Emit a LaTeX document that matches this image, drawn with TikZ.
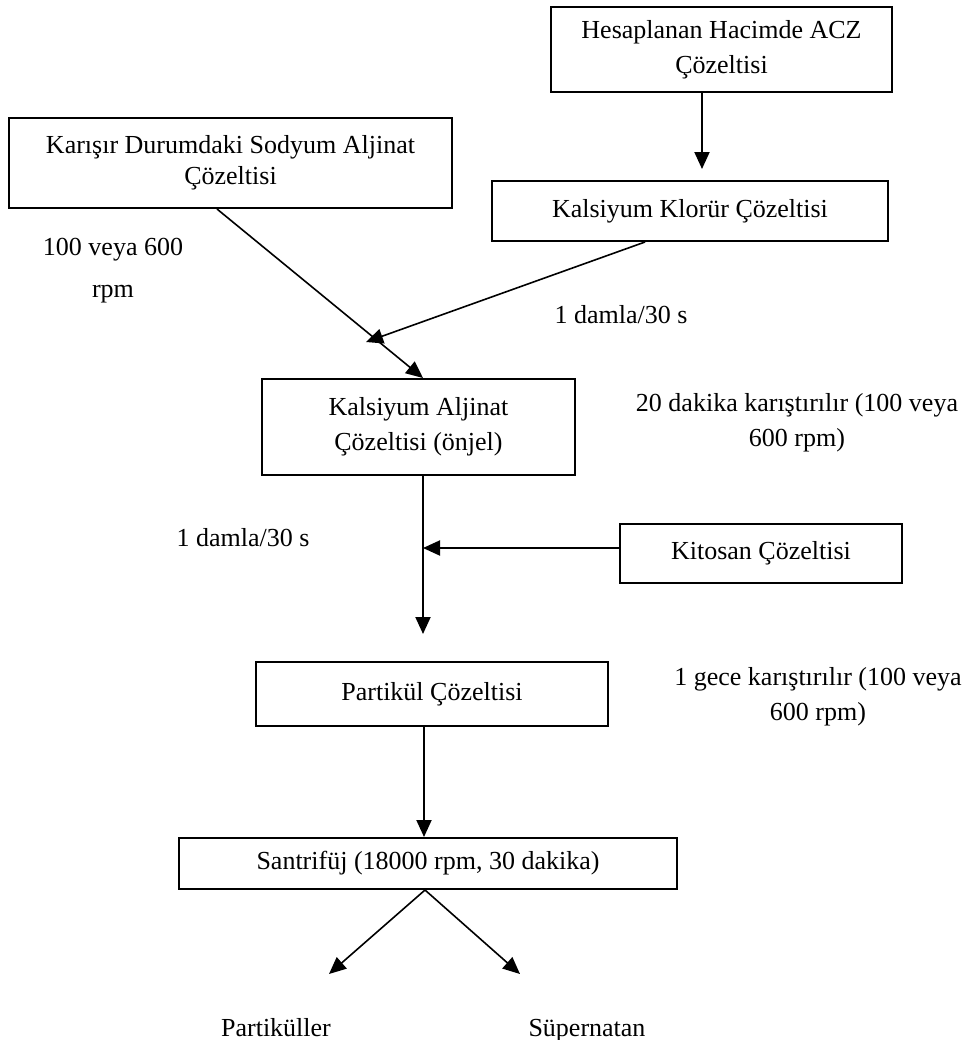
\documentclass[tikz,border=0pt]{standalone}
\usepackage{fontspec}
\setmainfont{Liberation Serif}
\usetikzlibrary{arrows.meta}
\tikzset{
  box/.style={draw, line width=1pt, inner sep=0pt, align=center, font=\fontsize{13pt}{17.5pt}\selectfont},
  lbl/.style={inner sep=0pt, align=center, font=\fontsize{13pt}{17.5pt}\selectfont},
  arr/.style={-{Triangle[length=8.5pt,width=7.5pt]}, line width=1pt},
  darr/.style={-{Triangle[length=8.5pt,width=7.5pt]}, line width=0.8pt}
}
\begin{document}
\begin{tikzpicture}[x=0.5pt,y=-0.5pt]
\useasboundingbox (0,0) rectangle (973,1040);
% boxes
\node[box, minimum width=170.5pt, minimum height=42.5pt] (b1) at (721.5,49.5) {Hesaplanan Hacimde ACZ\\Çözeltisi};
\node[box, minimum width=221.5pt, minimum height=45pt, font=\fontsize{13pt}{15.5pt}\selectfont] (b2) at (230.5,163) {Karışır Durumdaki Sodyum Aljinat\\Çözeltisi};
\node[box, minimum width=198pt, minimum height=30pt] (b3) at (690,211) {Kalsiyum Klorür Çözeltisi};
\node[box, minimum width=156.5pt, minimum height=48pt] (b4) at (418.5,427) {Kalsiyum Aljinat\\Çözeltisi (önjel)};
\node[box, minimum width=141pt, minimum height=29.5pt] (b5) at (761,553.5) {Kitosan Çözeltisi};
\node[box, minimum width=176pt, minimum height=32pt] (b6) at (432,694) {Partikül Çözeltisi};
\node[box, minimum width=249pt, minimum height=25.5pt] (b7) at (428,863.5) {Santrifüj (18000 rpm, 30 dakika)};
% labels
\node[lbl, font=\fontsize{13pt}{21pt}\selectfont] (t1) at (113,271) {100 veya 600\\rpm};
\node[lbl] (t2) at (621,315) {1 damla/30 s};
\node[lbl] (t3) at (797,423) {20 dakika karıştırılır (100 veya\\600 rpm)};
\node[lbl] (t4) at (243,538) {1 damla/30 s};
\node[lbl] (t5) at (818,697) {1 gece karıştırılır (100 veya\\600 rpm)};
\node[lbl, anchor=base] (o1) at (276,1036) {Partiküller};
\node[lbl, anchor=base] (o2) at (587,1036) {Süpernatan};
% junction coordinates
\coordinate (m1) at (366,342);
\coordinate (j) at (423,548);
\coordinate (pL) at (329,974);
\coordinate (pR) at (520,974);
% connectors
\draw[arr] ([xshift=-9.75pt]b1.south) -- ([xshift=6pt,yshift=5.5pt]b3.north);
\draw[darr] ([xshift=-6.75pt]b2.south) -- ([xshift=2.25pt]b4.north);
\draw[darr] ([xshift=-22.5pt]b3.south) -- (m1);
\draw[arr] ([xshift=2.25pt]b4.south) -- ([xshift=-4.5pt,yshift=13.5pt]b6.north);
\draw[arr] ([yshift=2.75pt]b5.west) -- (j);
\draw[arr] ([xshift=-4pt]b6.south) -- ([xshift=-2pt]b7.north);
\draw[darr] ([xshift=-1.5pt]b7.south) -- (pL);
\draw[darr] ([xshift=-1.5pt]b7.south) -- (pR);
\end{tikzpicture}
\end{document}
